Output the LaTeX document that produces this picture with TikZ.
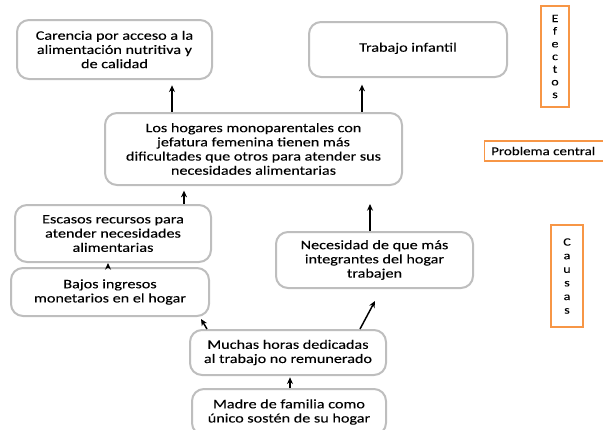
\documentclass[tikz,border=0pt]{standalone}
\usepackage{fontspec}
\setmainfont[FakeStretch=1.25,FakeBold=0.12]{Carlito}
\usetikzlibrary{arrows.meta}
\definecolor{boxgray}{HTML}{BEBEBE}
\definecolor{lblorange}{HTML}{F79646}
\begin{document}
\begin{tikzpicture}[x=0.75pt,y=-0.75pt,
  box/.style={draw=boxgray,line width=1.5pt,rounded corners=9pt,fill=white,
    align=center,inner sep=0pt,font=\fontsize{9.7pt}{10.65pt}\selectfont},
  lbl/.style={draw=lblorange,line width=1.1pt,align=center,inner sep=0pt,
    font=\fontsize{8.4pt}{9.5pt}\selectfont},
  arr/.style={line width=1.1pt,-{Stealth[length=5pt,width=4.5pt]}}]
\useasboundingbox (0,0) rectangle (603,429);
% effects
\node[box,minimum width=146.25pt,minimum height=44.25pt] (carencia) at (114.5,49.5)
  {Carencia por acceso a la\\alimentación nutritiva y\\de calidad};
\node[box,minimum width=148.5pt,minimum height=41.25pt] (trabajo) at (408,49.5)
  {\raisebox{3.4pt}{Trabajo infantil}};
\node[lbl,minimum width=21pt,minimum height=75.75pt] (efectos) at (555,56.5)
  {E\\f\\e\\c\\t\\o\\s};
% central
\node[box,minimum width=222.75pt,minimum height=54pt] (central) at (253.5,149)
  {Los hogares monoparentales con\\jefatura femenina tienen más\\dificultades que otros para atender sus\\necesidades alimentarias};
\node[lbl,minimum width=90.75pt,minimum height=15pt,anchor=west,font=\fontsize{9pt}{10pt}\selectfont] (problema) at (484,151)
  {\hspace*{-3pt}Problema central};
% causes
\node[box,minimum width=147pt,minimum height=42.75pt] (escasos) at (113,233.5)
  {Escasos recursos para\\atender necesidades\\alimentarias};
\node[box,minimum width=148.5pt,minimum height=36pt] (bajos) at (110,292)
  {Bajos ingresos\\monetarios en el hogar};
\node[box,minimum width=147.75pt,minimum height=42pt] (necesidad) at (374.5,260)
  {Necesidad de que más\\integrantes del hogar\\trabajen};
\node[lbl,minimum width=24pt,minimum height=76.5pt,font=\fontsize{8.4pt}{10.2pt}\selectfont] (causas) at (567,276)
  {C\\a\\u\\s\\a\\s};
\node[box,minimum width=147pt,minimum height=33.75pt] (muchas) at (288,352.5)
  {Muchas horas dedicadas\\al trabajo no remunerado};
\node[box,minimum width=145.5pt,minimum height=34.5pt] (madre) at (289,412)
  {Madre de familia como\\único sostén de su hogar};
% free ends
\coordinate (bajosTip) at (201,319);
\coordinate (necTip) at (375,301);
\coordinate (centralTip) at (370,204);
% connectors
\draw[arr,shorten >=4pt] (central.north -| 172,0) -- (carencia.south -| 172,0);
\draw[arr,shorten >=5pt] (central.north -| 362,0) -- (trabajo.south -| 362,0);
\draw[arr,shorten >=3.5pt] (escasos.north -| 184,0) -- (central.south -| 184,0);
\draw[arr] (bajos.north -| 108,0) -- (escasos.south -| 108,0);
\draw[arr] (muchas.north -| 207,0) -- (bajosTip);
\draw[arr] (muchas.north -| 360,0) -- (necTip);
\draw[arr,shorten >=1pt] (madre.north -| 290,0) -- (muchas.south -| 290,0);
\draw[arr] (necesidad.north -| 370,0) -- (centralTip);
\end{tikzpicture}
\end{document}
